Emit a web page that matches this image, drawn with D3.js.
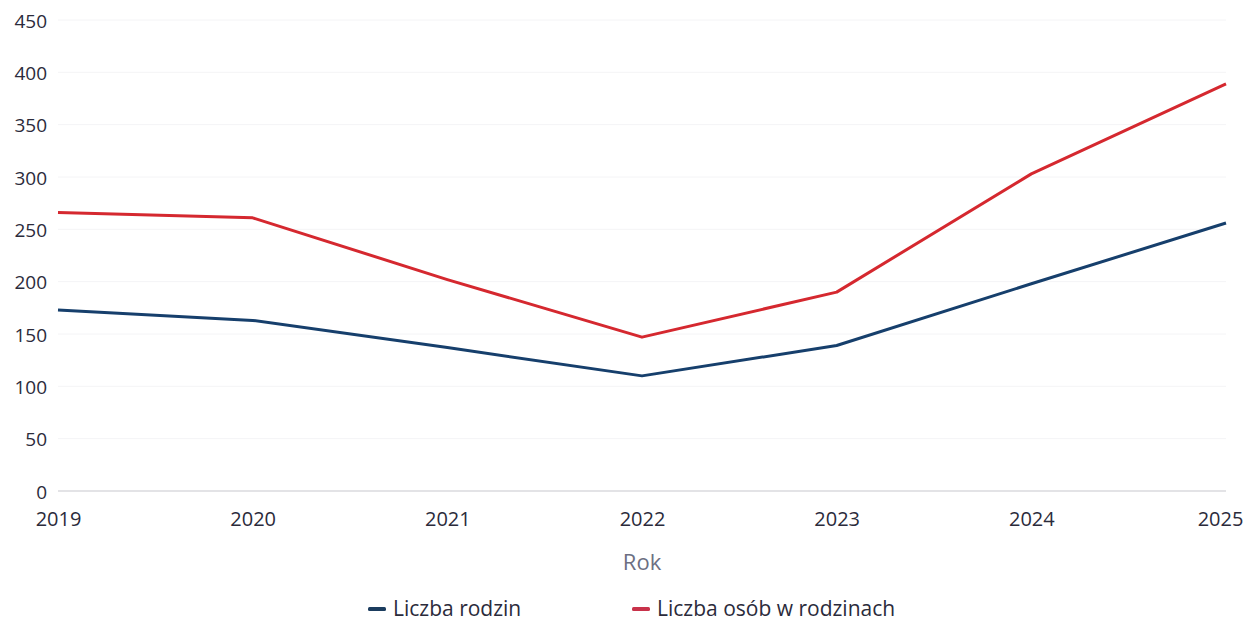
<!DOCTYPE html>
<html>
<head>
<meta charset="utf-8">
<script src="https://cdn.jsdelivr.net/npm/d3@7"></script>
<style>
  body { margin: 0; background: #fff; }
  svg text { font-family: "Open Sans", "Noto Sans", sans-serif; }
</style>
</head>
<body>
<div class="chart"></div>
<script>
var years = [2019, 2020, 2021, 2022, 2023, 2024, 2025];
var rodziny = [173, 163, 137, 110, 139, 198, 256];
var osoby = [266, 261, 202, 147, 190, 303, 389];
var yTicks = [0, 50, 100, 150, 200, 250, 300, 350, 400, 450];
var seriesNames = ["Liczba rodzin", "Liczba osób w rodzinach"];
var seriesColors = ["#163f6c", "#d5282f"];
var legendColors = ["#1b3c5e", "#c8324a"];

var width = 1248,
    height = 623;

var svg = d3.select(".chart").append("svg")
    .attr("width", width)
    .attr("height", height);

var x = d3.scalePoint()
    .domain(years)
    .range([58, 1226]);

var y = d3.scaleLinear()
    .domain([0, 450])
    .range([491, 20]);

// grid
svg.selectAll(".grid")
  .data(yTicks)
  .enter()
  .append("line")
    .attr("x1", 58)
    .attr("x2", 1226)
    .attr("y1", function(d) { return y(d); })
    .attr("y2", function(d) { return y(d); })
    .attr("stroke", function(d) { return d === 0 ? "#e3e3e6" : "#f4f4f6"; })
    .attr("stroke-width", function(d) { return d === 0 ? 2 : 1; });

// y axis labels
var yAxis = svg.append("g")
    .attr("transform", "translate(47,0)")
    .call(d3.axisLeft(y).tickValues(yTicks).tickSize(0).tickPadding(0));
yAxis.select(".domain").remove();
yAxis.selectAll("text")
    .attr("dy", "0.75em")
    .attr("y", -7)
    .style("font-size", "19px")
    .style("fill", "#2b2b3b");

// x axis labels
var xAxis = svg.append("g")
    .attr("transform", "translate(0,512)")
    .call(d3.axisBottom(x).tickSize(0).tickPadding(0).tickFormat(d3.format("d")));
xAxis.select(".domain").remove();
xAxis.selectAll("text")
    .attr("dy", "0.71em")
    .style("font-size", "20px")
    .style("fill", "#2b2b3b")
    .attr("x", function(d) { return d === 2025 ? -6 : 0; });

svg.append("text")
    .attr("x", 642)
    .attr("y", 570)
    .attr("text-anchor", "middle")
    .style("font-size", "22px")
    .style("fill", "#6c6f82")
    .text("Rok");

// lines
var line = d3.line()
    .x(function(d, i) { return x(years[i]); })
    .y(function(d) { return y(d); });

[rodziny, osoby].forEach(function(s, i) {
  svg.append("path")
    .attr("d", line(s))
    .attr("fill", "none")
    .attr("stroke", seriesColors[i])
    .attr("stroke-width", 3)
    .attr("stroke-linejoin", "round");
});

// legend
var legendX = [368, 632];
var legend = svg.selectAll(".legend")
  .data(seriesNames)
  .enter()
  .append("g")
    .attr("transform", function(d, i) { return "translate(" + legendX[i] + ",609)"; });

legend.append("rect")
    .attr("x", 0)
    .attr("y", -2)
    .attr("width", 18)
    .attr("height", 4)
    .attr("rx", 1.5)
    .attr("fill", function(d, i) { return legendColors[i]; });

legend.append("text")
    .attr("x", 25)
    .attr("dy", "0.35em")
    .style("font-size", "21px")
    .style("fill", "#2b2b3b")
    .text(function(d) { return d; });
</script>
</body>
</html>
